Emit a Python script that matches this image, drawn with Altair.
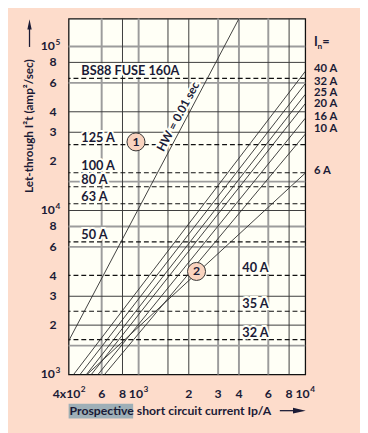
import altair as alt
import pandas as pd

# ---------------- data ----------------
fuse_ratings = ["40 A", "32 A", "25 A", "20 A", "16 A", "10 A", "6 A"]
fuse_start_current = [407, 445, 486, 520, 570, 624, 490]          # Ip where I2t = 1e3
fuse_end_i2t = [70500, 59300, 51000, 44800, 36500, 29200, 16900]  # I2t at Ip = 1e4
fuse_label_i2t = [72400, 60900, 52100, 44400, 36900, 31400, 17400]
hw_current = [380, 4030]
hw_i2t = [1600, 150000]

bs88_labels = ["BS88 FUSE 160A", "125 A", "100 A", "80 A", "63 A", "50 A"]
bs88_i2t = [64000, 25200, 17000, 13960, 10990, 6440]
bs88_right_labels = ["40 A", "35 A", "32 A"]
bs88_right_i2t = [4020, 2430, 1633]

grid_dark_x = [800, 1500, 2000, 8000]
grid_gray_x = [600, 1000, 3000, 4000, 6000]
grid_dark_y = [2000, 3000, 10000, 30000, 40000, 80000]
grid_gray_y = [1500, 6000, 8000, 15000, 60000, 100000]

x_tick_vals = [600, 800, 2000, 3000, 4000, 6000, 8000]
x_tick_text = ["6", "8", "2", "3", "4", "6", "8"]
x_pow_vals = [1000, 10000]
x_pow_exp = ["3", "4"]
y_tick_vals = [2000, 3000, 4000, 6000, 8000, 20000, 30000, 40000, 60000, 80000]
y_tick_text = ["2", "3", "4", "6", "8", "2", "3", "4", "6", "8"]
y_pow_vals = [1000, 10000, 100000]
y_pow_exp = ["3", "4", "5"]

marker_ids = ["1", "2"]
marker_current = [964, 2226]
marker_i2t = [26200, 4250]

hw_label = "HW = 0.01 sec"
hw_label_current = [1900]
hw_label_i2t = [35500]

# ---------------- style ----------------
FONT = "Lato"
TXT = "#1b1b36"
BG = "#fddccb"
PLOT_BG = "#fffff6"
W, H = 242, 364

xs = alt.Scale(type="log", domain=[380, 10000])
ys = alt.Scale(type="log", domain=[1000, 148000])

def X(f="x"):
    return alt.X(f"{f}:Q", scale=xs, axis=None)

def Y(f="y"):
    return alt.Y(f"{f}:Q", scale=ys, axis=None)

# lines table
rows = []
for name, sx, ey in zip(fuse_ratings, fuse_start_current, fuse_end_i2t):
    rows.append({"s": name, "x": sx, "y": 1000})
    rows.append({"s": name, "x": 10000, "y": ey})
for cx, cy in zip(hw_current, hw_i2t):
    rows.append({"s": "HW", "x": cx, "y": cy})
lines_df = pd.DataFrame(rows)

vgrid_dark = alt.Chart(pd.DataFrame({"x": grid_dark_x})).mark_rule(color="#3a3a3a", strokeWidth=1).encode(x=X())
vgrid_gray = alt.Chart(pd.DataFrame({"x": grid_gray_x})).mark_rule(color="#9c9c9c", strokeWidth=2).encode(x=X())
hgrid_dark = alt.Chart(pd.DataFrame({"y": grid_dark_y})).mark_rule(color="#3a3a3a", strokeWidth=1).encode(y=Y())
hgrid_gray = alt.Chart(pd.DataFrame({"y": grid_gray_y})).mark_rule(color="#9c9c9c", strokeWidth=2).encode(y=Y())

dashed = alt.Chart(pd.DataFrame({"y": bs88_i2t + bs88_right_i2t})).mark_rule(
    color="#111", strokeWidth=1.2, strokeDash=[5, 3]).encode(y=Y())

lines = alt.Chart(lines_df).mark_line(color="#2a2a2a", strokeWidth=0.9, clip=True).encode(
    x=X(), y=Y(), detail="s:N")

# inner labels
left_df = pd.DataFrame({"t": bs88_labels, "y": bs88_i2t})
right_df = pd.DataFrame({"t": bs88_right_labels, "y": bs88_right_i2t})

def halo_text(df, **kw):
    base = alt.Chart(df)
    halo = base.mark_text(font=FONT, fontWeight="bold", fontSize=13, stroke=PLOT_BG,
                          strokeWidth=4, fill=PLOT_BG, **kw)
    txt = base.mark_text(font=FONT, fontWeight="bold", fontSize=13, fill=TXT, **kw)
    return halo, txt

lh, lt = halo_text(left_df, align="left", baseline="middle", dy=-7)
lh = lh.encode(x=alt.value(13), y=Y(), text="t:N")
lt = lt.encode(x=alt.value(13), y=Y(), text="t:N")
rh, rt = halo_text(right_df, align="center", baseline="middle", dy=-7)
rh = rh.encode(x=alt.value(191), y=Y(), text="t:N")
rt = rt.encode(x=alt.value(191), y=Y(), text="t:N")

# HW label
hw_df = pd.DataFrame({"t": [hw_label], "x": hw_label_current, "y": hw_label_i2t})
hw_halo = alt.Chart(hw_df).mark_text(font=FONT, fontWeight="bold", fontSize=12, angle=298,
                                     stroke=PLOT_BG, strokeWidth=4, fill=PLOT_BG, dy=-8).encode(
    x=X(), y=Y(), text="t:N")
hw_txt = alt.Chart(hw_df).mark_text(font=FONT, fontWeight="bold", fontSize=12, angle=298,
                                    fill=TXT, dy=-8).encode(x=X(), y=Y(), text="t:N")

# markers
mk_df = pd.DataFrame({"t": marker_ids, "x": marker_current, "y": marker_i2t})
mk_pt = alt.Chart(mk_df).mark_point(shape="circle", size=340, filled=True, fill="#f9d3bf",
                                    stroke="#333", strokeWidth=1, opacity=1).encode(x=X(), y=Y())
mk_tx = alt.Chart(mk_df).mark_text(font=FONT, fontWeight="bold", fontSize=12.5, fill=TXT).encode(
    x=X(), y=Y(), text="t:N")

# right side rating labels
rat_df = pd.DataFrame({"t": fuse_ratings, "y": fuse_label_i2t})
rat = alt.Chart(rat_df).mark_text(font=FONT, fontWeight="bold", fontSize=11.5, fill=TXT,
                                  align="left", baseline="middle").encode(
    x=alt.value(251), y=Y(), text="t:N")
in_I = alt.Chart(pd.DataFrame({"t": ["I"]})).mark_text(font=FONT, fontWeight="bold", fontSize=13,
    fill=TXT, align="left", baseline="middle").encode(x=alt.value(251), y=alt.value(24), text="t:N")
in_n = alt.Chart(pd.DataFrame({"t": ["n"]})).mark_text(font=FONT, fontWeight="bold", fontSize=8.5,
    fill=TXT, align="left", baseline="middle").encode(x=alt.value(254.5), y=alt.value(28), text="t:N")
in_eq = alt.Chart(pd.DataFrame({"t": ["="]})).mark_text(font=FONT, fontWeight="bold", fontSize=13,
    fill=TXT, align="left", baseline="middle").encode(x=alt.value(259.5), y=alt.value(24), text="t:N")

# tick labels
tk = dict(font=FONT, fontWeight="bold", fontSize=12.5, fill=TXT, baseline="middle")
xt = alt.Chart(pd.DataFrame({"x": x_tick_vals, "t": x_tick_text})).mark_text(align="center", **tk).encode(
    x=X(), y=alt.value(384), text="t:N")
xp_df = pd.DataFrame({"x": x_pow_vals, "e": x_pow_exp, "b": ["10"] * len(x_pow_vals)})
xpb = alt.Chart(xp_df).mark_text(align="right", dx=4.5, **tk).encode(x=X(), y=alt.value(384), text="b:N")
xpe = alt.Chart(xp_df).mark_text(align="left", dx=5, dy=-5, font=FONT, fontWeight="bold", fontSize=8.5,
                                 fill=TXT, baseline="middle").encode(x=X(), y=alt.value(384), text="e:N")
x0b = alt.Chart(pd.DataFrame({"t": ["4x10"]})).mark_text(align="right", **tk).encode(
    x=alt.value(12), y=alt.value(384), text="t:N")
x0e = alt.Chart(pd.DataFrame({"t": ["2"]})).mark_text(align="left", dy=-5, font=FONT, fontWeight="bold",
    fontSize=8.5, fill=TXT, baseline="middle").encode(x=alt.value(12.5), y=alt.value(384), text="t:N")

yt = alt.Chart(pd.DataFrame({"y": y_tick_vals, "t": y_tick_text})).mark_text(align="center", **tk).encode(
    x=alt.value(-16), y=Y(), text="t:N")
yp_df = pd.DataFrame({"y": y_pow_vals, "e": y_pow_exp, "b": ["10"] * len(y_pow_vals)})
ypb = alt.Chart(yp_df).mark_text(align="right", **tk).encode(x=alt.value(-14), y=Y(), text="b:N")
ype = alt.Chart(yp_df).mark_text(align="left", dy=-5, font=FONT, fontWeight="bold", fontSize=8.5,
                                 fill=TXT, baseline="middle").encode(x=alt.value(-13.5), y=Y(), text="e:N")

# axis titles
hl = alt.Chart(pd.DataFrame({"a": [0]})).mark_rect(color="#9eafb7").encode(
    x=alt.value(0), x2=alt.value(66), y=alt.value(394), y2=alt.value(409))
xtitle = alt.Chart(pd.DataFrame({"t": ["Prospective short circuit current Ip/A"]})).mark_text(
    font=FONT, fontWeight="bold", fontSize=12.5, fill=TXT, align="left", baseline="middle").encode(
    x=alt.value(1), y=alt.value(401.5), text="t:N")
xarrow = alt.Chart(pd.DataFrame({"a": [0]})).mark_rule(color=TXT, strokeWidth=1.3).encode(
    x=alt.value(216), x2=alt.value(232), y=alt.value(401))
xhead = alt.Chart(pd.DataFrame({"a": [0]})).mark_point(
    shape="M -1 -0.45 L 1 0 L -1 0.45 Z", size=170, filled=True, color=TXT, opacity=1).encode(
    x=alt.value(236), y=alt.value(401))

ytitle = alt.Chart(pd.DataFrame({"t": ["Let-through I²t (amp²/sec)"]})).mark_text(
    font=FONT, fontWeight="bold", fontSize=12, fill=TXT, angle=270, align="center",
    baseline="middle").encode(x=alt.value(-40), y=alt.value(110), text="t:N")
yarrow = alt.Chart(pd.DataFrame({"a": [0]})).mark_rule(color=TXT, strokeWidth=1.3).encode(
    x=alt.value(-40), y=alt.value(29), y2=alt.value(8))
yhead = alt.Chart(pd.DataFrame({"a": [0]})).mark_point(
    shape="M -0.42 1 L 0 -1 L 0.42 1 Z", size=110, filled=True, color=TXT, opacity=1).encode(
    x=alt.value(-40), y=alt.value(6))

chart = alt.layer(
    vgrid_gray, hgrid_gray, vgrid_dark, hgrid_dark, dashed, lines,
    lh, lt, rh, rt, hw_halo, hw_txt, mk_pt, mk_tx,
    rat, in_I, in_n, in_eq, xt, xpb, xpe, x0b, x0e, yt, ypb, ype,
    hl, xtitle, xarrow, xhead, ytitle, yarrow, yhead,
).properties(
    width=W, height=H,
    autosize=alt.AutoSizeParams(type="none"),
    padding={"left": 62, "top": 6, "right": 56, "bottom": 55},
    background=BG,
).configure_view(fill=PLOT_BG, stroke="#111", strokeWidth=1.3)

chart.save("out.html", embed_options={"renderer": "svg", "actions": False})
